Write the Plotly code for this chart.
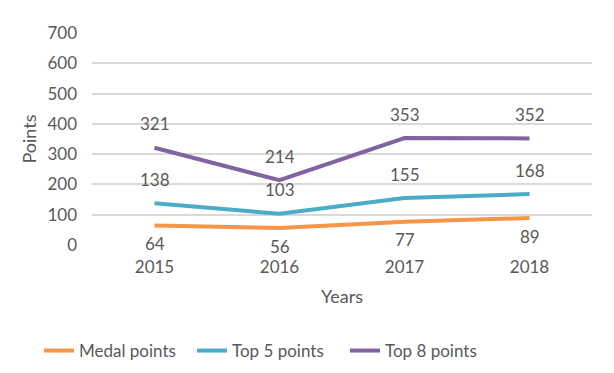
import plotly.graph_objects as go

years = ["2015", "2016", "2017", "2018"]
medal_points = [64, 56, 77, 89]
top5_points = [138, 103, 155, 168]
top8_points = [321, 214, 353, 352]

series = [
    ("Medal points", medal_points, "#F79646", -18),
    ("Top 5 points", top5_points, "#4BACC6", 24),
    ("Top 8 points", top8_points, "#8064A2", 24),
]

FONT = "Lato"
TXT = "#595959"

fig = go.Figure()
annotations = []
for name, vals, color, shift in series:
    fig.add_trace(go.Scatter(
        x=years, y=vals, name=name, mode="lines",
        line=dict(color=color, width=4),
    ))
    for i, v in enumerate(vals):
        annotations.append(dict(
            x=i, y=v, xref="x", yref="y", text=str(v), showarrow=False, yshift=shift,
            xanchor="center", yanchor="middle",
            font=dict(family=FONT, size=17, color=TXT),
        ))

# page body has an 8px margin, so the figure is 606x365 with margins shifted by 8px
fig.update_layout(
    width=606, height=365,
    margin=dict(l=84, r=22, t=25, b=128, autoexpand=False),
    plot_bgcolor="white", paper_bgcolor="white",
    font=dict(family=FONT, size=17, color=TXT),
    annotations=annotations,
    showlegend=True,
    legend=dict(orientation="h", xref="container", yref="container",
                x=31 / 606, xanchor="left", y=22 / 365, yanchor="middle",
                itemwidth=30, entrywidth=108, entrywidthmode="pixels", tracegroupgap=0,
                font=dict(family=FONT, size=17, color=TXT)),
    xaxis=dict(type="category", range=[-0.5, 3.5], showgrid=False, zeroline=False,
               showline=False, ticks="", automargin=False, ticklabelstandoff=10,
               title=dict(text="Years", font=dict(size=18, color=TXT), standoff=14)),
    yaxis=dict(range=[0, 700], dtick=100, showgrid=True, gridcolor="#D9D9D9", gridwidth=1.5,
               zeroline=False, showline=False, ticks="", ticklabelstandoff=14, automargin=False,
               title=dict(text="Points", font=dict(size=18, color=TXT), standoff=6)),
)

fig.write_html("out.html")
